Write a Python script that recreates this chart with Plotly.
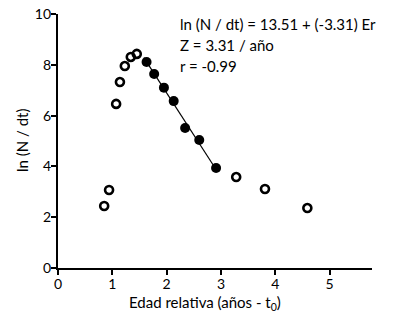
import plotly.graph_objects as go

open_x = [0.85, 0.94, 1.07, 1.14, 1.23, 1.34, 1.45, 3.28, 3.81, 4.59]
open_y = [2.44, 3.07, 6.46, 7.32, 7.95, 8.31, 8.43, 3.58, 3.11, 2.36]
fill_x = [1.63, 1.77, 1.95, 2.13, 2.34, 2.60, 2.91]
fill_y = [8.11, 7.64, 7.10, 6.57, 5.51, 5.04, 3.94]
intercept = 13.51
slope = -3.31
x_ticks = [0, 1, 2, 3, 4, 5]
y_ticks = [0, 2, 4, 6, 8, 10]
ann_lines = ["ln (N / dt) = 13.51 + (-3.31) Er", "Z = 3.31 / año", "r = -0.99"]
x_title = "Edad relativa (años - t<sub>0</sub>)"
y_title = "ln (N / dt)"

font = "Lato, sans-serif"
OFF = 8  # browser body margin
W, H = 394 - OFF, 327 - OFF
# plot area in screen pixels
L, R, T, B = 58, 372, 14, 268
l, r, t_, b = L - OFF, W - (R - OFF), T - OFF, H - (B - OFF)
pw, ph = W - l - r, H - t_ - b

def px2paper(sx, sy):
    return (sx - L) / pw, 1 - (sy - T) / ph

fig = go.Figure()
lx = [1.58, max(fill_x)]
fig.add_trace(go.Scatter(x=lx, y=[intercept + slope * v for v in lx], mode="lines",
                         line=dict(color="black", width=1.2), showlegend=False, cliponaxis=False))
fig.add_trace(go.Scatter(x=open_x, y=open_y, mode="markers",
                         marker=dict(symbol="circle-open", size=8, color="black",
                                     line=dict(width=2.6, color="black")), showlegend=False))
fig.add_trace(go.Scatter(x=fill_x, y=fill_y, mode="markers",
                         marker=dict(symbol="circle", size=10, color="black"), showlegend=False))

for i, t in enumerate(ann_lines):
    ax, ay = px2paper(178, 24 + i * 21)
    fig.add_annotation(x=ax, y=ay, xref="paper", yref="paper",
                       text=t, showarrow=False, xanchor="left", yanchor="middle",
                       font=dict(family=font, size=15, color="black"))

ax, ay = px2paper(205, 303)
fig.add_annotation(x=ax, y=ay, xref="paper", yref="paper", text=x_title, showarrow=False,
                   xanchor="center", yanchor="middle", font=dict(family=font, size=15, color="black"))
ax, ay = px2paper(22, 141)
fig.add_annotation(x=ax, y=ay, xref="paper", yref="paper", text=y_title, showarrow=False,
                   textangle=-90, xanchor="center", yanchor="middle",
                   font=dict(family=font, size=15, color="black"))

axis_common = dict(showgrid=False, zeroline=False, showline=True, linecolor="black",
                   linewidth=2.2, ticks="outside", ticklen=5, tickwidth=1.6,
                   tickcolor="black", automargin=False, ticklabeloverflow="allow",
                   ticklabelstandoff=-3)
fig.update_layout(
    width=W, height=H, margin=dict(l=l, r=r, t=t_, b=b),
    plot_bgcolor="white", paper_bgcolor="white",
    font=dict(family=font, size=14, color="black"),
    xaxis=dict(range=[0, 5.78], tickvals=x_ticks, **axis_common),
    yaxis=dict(range=[0, 10], tickvals=y_ticks, **axis_common),
)
fig.write_html("out.html")
